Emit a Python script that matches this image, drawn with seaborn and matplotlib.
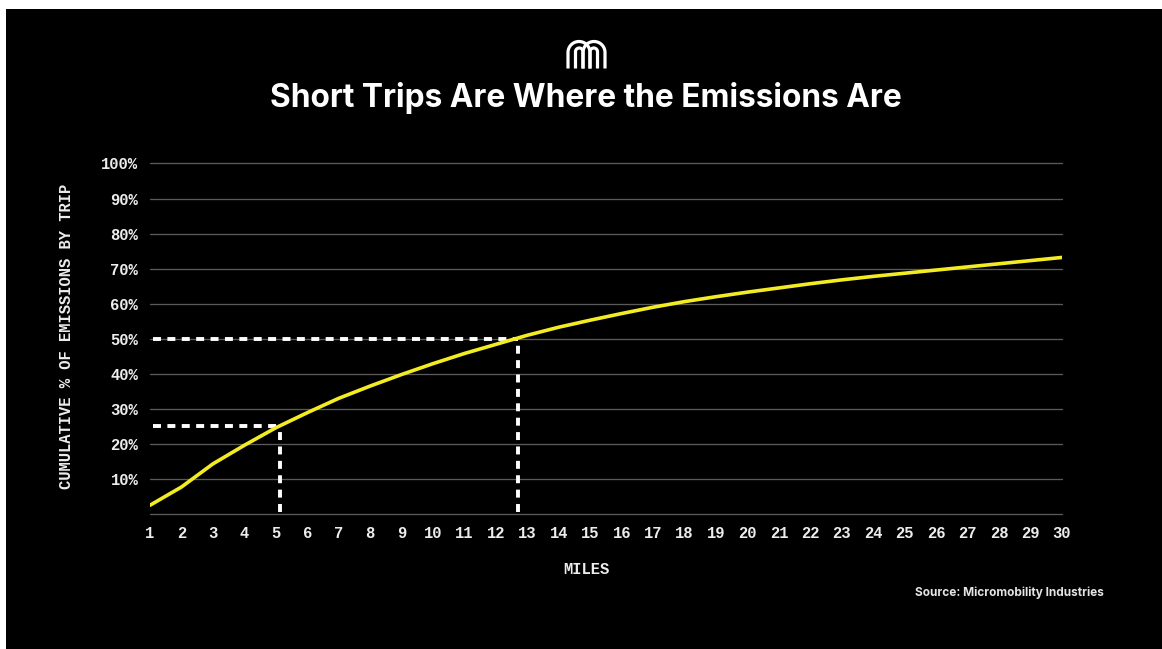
import numpy as np
import pandas as pd
import seaborn as sns
import matplotlib.pyplot as plt
from matplotlib.patches import Rectangle

sns.set_theme(style="dark")
plt.rcParams['font.family'] = ['Liberation Mono', 'DejaVu Sans']

miles = list(range(1, 31))
cumulative_pct = [2.5, 7.7, 14.3, 19.6, 24.6, 28.9, 33.0, 36.5, 39.8, 42.9,
                  45.8, 48.4, 51.0, 53.3, 55.3, 57.2, 59.0, 60.6, 62.0, 63.3,
                  64.5, 65.7, 66.8, 67.8, 68.7, 69.6, 70.5, 71.4, 72.3, 73.2]
curve = pd.DataFrame({"miles": miles, "pct": cumulative_pct})

y_ticks = [10, 20, 30, 40, 50, 60, 70, 80, 90, 100]
guide_a = (5.12, 25)
guide_b = (12.7, 50)

W, H = 1162, 649
fig = plt.figure(figsize=(W / 100, H / 100), dpi=100, facecolor="white")
fig.add_artist(Rectangle((6 / W, 0), (W - 6) / W, (H - 9) / H, transform=fig.transFigure,
                         facecolor="black", edgecolor="none", zorder=-5))

left, right, top, bottom = 150, 1062, 163.5, 514
ax = fig.add_axes([left / W, 1 - bottom / H, (right - left) / W, (bottom - top) / H])
ax.patch.set_alpha(0)
ax.set_xlim(1, 30)
ax.set_ylim(0, 100)
for s in ax.spines.values():
    s.set_visible(False)

ax.grid(False)
for v in [0] + y_ticks:
    ax.axhline(v, color="#5a5a5a", lw=0.95, zorder=1, clip_on=False)

dash = dict(color="white", lw=2.8, linestyle=(0, (2.05, 1.65)), dash_capstyle="butt", zorder=2)
for gx, gy in (guide_a, guide_b):
    ax.plot([1.1, gx], [gy, gy], **dash)
    ax.plot([gx, gx], [0.6, gy - 1], **dash)

sns.lineplot(data=curve, x="miles", y="pct", color="#f4ec22", lw=2.6, ax=ax, zorder=3)

ax.set_xticks(miles)
ax.set_yticks(y_ticks)
ax.set_yticklabels([f"{v}%" for v in y_ticks])
ax.tick_params(axis="both", length=0, labelcolor="#ededed", labelsize=11.2)
ax.tick_params(axis="x", pad=9)
ax.tick_params(axis="y", pad=8.5)
for lab in ax.get_xticklabels() + ax.get_yticklabels():
    lab.set_fontweight("bold")
ax.set_xlabel("")
ax.set_ylabel("")

fig.text(586 / W, 1 - 569 / H, "MILES", color="#ededed", fontsize=11.2, fontweight="bold",
         ha="center", va="center")
fig.text(67 / W, 1 - 336.5 / H, "CUMULATIVE % OF EMISSIONS BY TRIP", color="#ededed", fontsize=11.2,
         fontweight="bold", rotation=90, ha="center", va="center")
fig.text(586 / W, 1 - 98.5 / H, "Short Trips Are Where the Emissions Are", color="white",
         fontsize=22.8, fontweight="bold", family=["Inter", "DejaVu Sans"], ha="center", va="center")
fig.text(1104 / W, 1 - 592.5 / H, "Source: Micromobility Industries", color="#e4e4e4",
         fontsize=8.5, fontweight="bold", family=["Inter", "DejaVu Sans"], ha="right", va="center")

# Brand mark: two overlapping humps with a smaller arch nested in each, in pixel coordinates
logo = fig.add_axes([560 / W, 1 - 72 / H, 52 / W, 34 / H])
logo.set_xlim(560, 612)
logo.set_ylim(72, 38)
logo.axis("off")
logo.patch.set_alpha(0)


def arch(x0, x1, base, crown):
    r = (x1 - x0) / 2
    cx = (x0 + x1) / 2
    t = np.linspace(np.pi, 0, 40)
    xs = cx + r * np.cos(t)
    ys = crown + r - r * np.sin(t)
    logo.plot(np.r_[x0, xs, x1], np.r_[base, ys, base], color="white", lw=2.3,
              solid_capstyle="butt")


arch(568, 590, 68.5, 41.5)
arch(583, 605, 68.5, 41.5)
arch(575.5, 583, 68.5, 48)
arch(590, 597.5, 68.5, 48)

fig.savefig("out.png", dpi=100, facecolor=fig.get_facecolor())
